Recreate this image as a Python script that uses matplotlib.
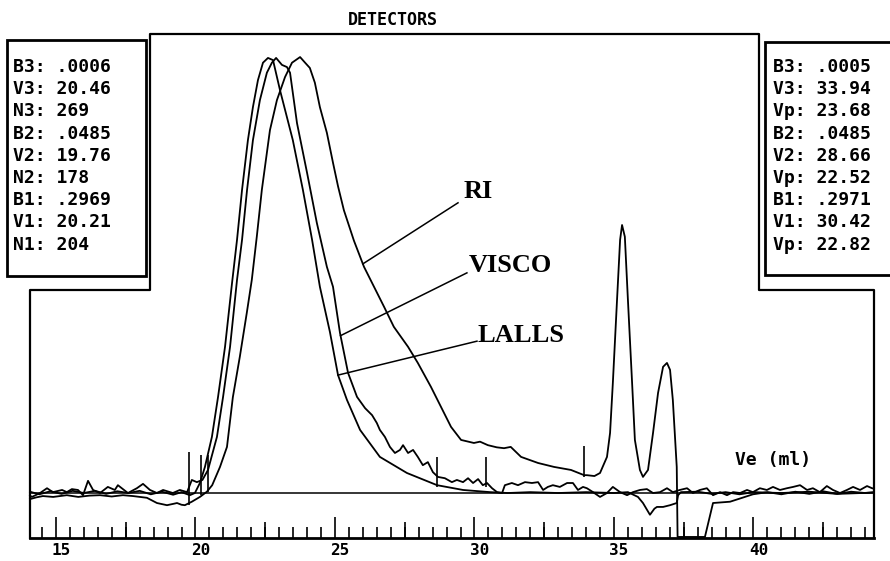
import matplotlib
matplotlib.use("Agg")
import matplotlib.pyplot as plt
import numpy as np
from matplotlib.transforms import ScaledTranslation

# Elution volume (ml) and normalised detector response
ri_ml = [14.07, 14.3, 14.53, 14.9, 15.39, 15.8, 16.2, 16.58, 17.0, 17.4, 17.76, 18.26,
         18.62, 18.98, 19.2, 19.34, 19.5, 19.62, 19.87, 20.16, 20.41, 20.6, 20.88, 21.13,
         21.34, 21.59, 21.84, 22.02, 22.2, 22.38, 22.67, 22.92, 23.21, 23.46, 23.75, 23.93,
         24.1, 24.28, 24.46, 24.71, 24.93, 25.11, 25.32, 25.68, 26.04, 26.4, 26.76, 27.11,
         27.62, 27.97, 28.44, 28.8, 29.16, 29.52, 29.98, 30.2, 30.48, 30.8, 31.06, 31.3,
         31.67, 32.28, 32.85, 33.46, 33.93, 34.03, 34.3, 34.5, 34.75, 34.86, 34.96, 35.11,
         35.22, 35.29, 35.39, 35.5, 35.65, 35.75, 35.93, 36.04, 36.22, 36.4, 36.58, 36.76,
         36.9, 37.01, 37.11, 37.25, 37.28, 38.26, 38.55, 39.16, 39.5, 39.98, 40.5, 41.0,
         41.5, 42.0, 42.5, 43.0, 43.5, 44.0, 44.32]
ri_v = [-1.4, -1.0, -0.7, -0.9, -0.5, -0.9, -0.6, -0.5, -0.8, -0.5, -0.7, -1.1,
        -2.3, -2.8, -2.5, -2.3, -2.7, -2.8, -2.0, -0.9, 0.3, 1.8, 6.0, 10.6,
        22.0, 31.3, 41.4, 49.0, 59.0, 69.7, 83.4, 90.3, 95.6, 98.9, 100.2, 98.9,
        97.7, 94.3, 88.7, 82.8, 75.9, 70.5, 65.0, 58.0, 52.0, 47.4, 42.8, 38.2,
        33.6, 29.9, 24.4, 19.8, 15.2, 12.2, 11.5, 11.8, 11.0, 10.5, 10.3, 10.6,
        8.3, 6.9, 6.0, 5.3, 4.1, 4.1, 3.9, 4.6, 8.3, 13.8, 25.3, 44.4,
        58.2, 61.6, 58.9, 44.4, 25.3, 12.2, 5.3, 3.7, 5.3, 13.8, 23.0, 29.0,
        29.9, 28.3, 21.4, 6.0, -10.1, -10.1, -2.3, -2.0, -1.3, -0.3, 0.2, -0.3,
        0.3, -0.2, 0.4, -0.2, 0.3, 0.0, 0.2]

visco_ml = [14.07, 14.14, 14.43, 14.68, 14.89, 15.22, 15.39, 15.57, 15.79, 15.97, 16.15,
            16.33, 16.58, 16.86, 17.11, 17.22, 17.58, 17.9, 18.12, 18.37, 18.62, 18.84,
            19.19, 19.44, 19.7, 19.87, 20.05, 20.25, 20.45, 20.77, 20.99, 21.24, 21.49,
            21.67, 21.85, 22.06, 22.31, 22.56, 22.74, 22.89, 23.1, 23.28, 23.39, 23.64,
            24.0, 24.35, 24.71, 24.93, 25.18, 25.47, 25.79, 26.08, 26.33, 26.5, 26.61,
            26.79, 26.97, 27.15, 27.33, 27.44, 27.62, 27.8, 27.97, 28.15, 28.33, 28.51,
            28.69, 28.94, 29.19, 29.37, 29.59, 29.77, 29.95, 30.13, 30.3, 30.45, 30.63,
            30.81, 30.99, 31.09, 31.34, 31.56, 31.81, 32.06, 32.28, 32.46, 32.63, 32.81,
            33.06, 33.32, 33.53, 33.71, 33.89, 34.03, 34.25, 34.5, 34.75, 34.96, 35.22,
            35.47, 35.68, 35.93, 36.18, 36.4, 36.65, 36.9, 37.11, 37.36, 37.62, 37.83,
            38.08, 38.33, 38.55, 38.8, 39.05, 39.27, 39.52, 39.77, 39.98, 40.23, 40.48,
            40.7, 40.95, 41.2, 41.42, 41.67, 41.92, 42.13, 42.38, 42.63, 42.85, 43.1,
            43.35, 43.57, 43.82, 44.07, 44.25, 44.32]
visco_v = [-0.6, -0.9, 0.0, 1.1, 0.2, 0.7, 0.2, 0.9, 0.7, -0.5, 2.8,
           0.7, 0.0, 1.4, 0.7, 1.8, 0.0, 1.1, 2.1, 0.7, 0.0, 0.7,
           0.0, 0.7, 0.2, 3.0, 2.5, 3.0, 5.3, 12.9, 22.1, 33.6, 49.0,
           58.2, 69.7, 81.1, 90.3, 96.6, 98.9, 100.0, 98.4, 97.9, 96.6, 85.0,
           73.6, 62.1, 52.0, 47.4, 36.8, 27.6, 22.1, 19.5, 17.9, 16.1, 14.5,
           12.9, 10.6, 9.2, 9.9, 11.0, 9.2, 9.9, 8.3, 6.4, 7.1, 4.8,
           3.7, 3.4, 2.5, 3.0, 2.5, 3.4, 2.3, 3.2, 1.8, 2.3, 1.1,
           0.2, 0.0, 1.8, 2.3, 1.8, 2.5, 2.3, 2.5, 0.7, 1.4, 1.8,
           1.4, 2.3, 2.3, 0.7, 1.4, 1.1, 0.2, -0.9, 0.0, 1.4, 0.2,
           -0.5, 0.2, 0.7, 0.9, 0.0, 0.2, 1.1, 0.2, 0.7, 1.1, 0.0,
           0.7, 1.1, -0.5, 0.2, -0.5, 0.2, 0.0, 0.7, 0.2, 1.1, 0.7,
           1.4, 0.7, 1.1, 1.4, 1.8, 0.7, 1.1, 0.2, 1.6, 0.7, 0.0,
           0.7, 1.4, 0.7, 1.6, 1.1, 1.0]

lalls_ml = [14.07, 14.4, 14.8, 15.2, 15.6, 16.0, 16.4, 16.8, 17.2, 17.6, 18.0, 18.4,
            18.8, 19.2, 19.5, 19.8, 19.98, 20.16, 20.34, 20.59, 20.81, 21.06, 21.31,
            21.49, 21.67, 21.88, 22.06, 22.24, 22.42, 22.6, 22.78, 23.03, 23.49, 23.85,
            24.18, 24.46, 24.82, 25.11, 25.43, 25.9, 26.61, 27.58, 28.66, 29.59, 30.56,
            31.2, 32.0, 33.0, 34.0, 35.0, 35.5, 35.86, 36.04, 36.29, 36.45, 36.54,
            36.76, 37.01, 37.25, 37.3, 37.4, 38.0, 38.5, 39.0, 39.5, 40.0, 41.0, 42.0,
            43.0, 44.32]
lalls_v = [0.3, -0.3, 0.4, -0.2, 0.5, 0.0, 0.5, -0.2, 0.4, 0.0, 0.5, -0.3,
           0.3, -0.4, 0.2, -0.5, 0.0, 2.3, 6.0, 12.9, 22.1, 33.6, 48.2,
           58.2, 69.7, 81.1, 88.7, 94.9, 98.9, 100.0, 99.5, 92.6, 81.1, 69.7,
           58.2, 47.4, 37.0, 27.1, 21.4, 14.5, 8.3, 4.6, 1.8, 0.7, 0.2,
           0.0, 0.2, 0.0, 0.2, 0.0, 0.2, -0.9, -2.3, -5.0, -3.6, -3.2,
           -3.2, -2.8, -2.3, -0.5, 0.2, 0.3, -0.2, 0.2, -0.3, 0.2, 0.0, 0.3,
           -0.2, 0.1]

# Integration limit markers (ml) and their extent in response units
marker_ml = [19.76, 20.21, 20.46, 28.66, 30.42, 33.94]
marker_lo = [-2.8, -0.5, 0.3, 1.4, 1.4, 3.7]
marker_hi = [9.4, 8.7, 8.7, 8.3, 8.3, 10.8]

left_box = ["B3: .0006", "V3: 20.46", "N3: 269", "B2: .0485", "V2: 19.76",
            "N2: 178", "B1: .2969", "V1: 20.21", "N1: 204"]
right_box = ["B3: .0005", "V3: 33.94", "Vp: 23.68", "B2: .0485", "V2: 28.66",
             "Vp: 22.52", "B1: .2971", "V1: 30.42", "Vp: 22.82"]

W, H = 890, 561
MONO = "DejaVu Sans Mono"
SERIF = "Liberation Serif"


def fx(px):
    return px / W


def fy(py):
    return 1 - py / H


fig = plt.figure(figsize=(W / 100, H / 100), dpi=100)
ax = fig.add_axes([fx(30), fy(538), fx(874) - fx(30), fy(34) - fy(538)])
ax.set_xlim(14.07, 44.32)
ax.set_ylim(-10.34, 105.5)
ax.patch.set_alpha(0)

for name in ["left", "right", "top"]:
    ax.spines[name].set_visible(False)
ax.spines["bottom"].set_linewidth(2.0)

# stepped outline of the plotting window
frame_x = [30, 30, 150, 150, 759, 759, 874, 874]
frame_y = [538, 290, 290, 34, 34, 290, 290, 538]
fig.add_artist(plt.Line2D([fx(p) for p in frame_x], [fy(p) for p in frame_y],
                          transform=fig.transFigure, color="black", lw=1.6))

# ticks
ax.set_xticks(np.arange(15, 45, 5))
ax.set_xticks(np.arange(14.5, 44.4, 0.5), minor=True)
ax.set_yticks([])
ax.tick_params(axis="x", which="major", direction="in", length=15, width=1.2, pad=3.5,
               labelsize=11.5)
ax.tick_params(axis="x", which="minor", direction="in", length=8, width=1.2)
for lab in ax.get_xticklabels():
    lab.set_fontfamily(MONO)
    lab.set_fontweight("bold")
    lab.set_transform(lab.get_transform() + ScaledTranslation(0.05, 0, fig.dpi_scale_trans))

mid = ax.secondary_xaxis("bottom")
mid.set_xticks(np.arange(17.5, 44.4, 5))
mid.tick_params(direction="in", length=11.5, width=1.2, labelbottom=False)
mid.spines["bottom"].set_visible(False)

# baseline and traces
ax.axhline(0, color="black", lw=1.1)
for ml, v in [(ri_ml, ri_v), (visco_ml, visco_v), (lalls_ml, lalls_v)]:
    ax.plot(ml, v, color="black", lw=1.3, clip_on=False)

ax.vlines(marker_ml, marker_lo, marker_hi, color="black", lw=1.2)

# curve labels with leader lines
labels = [
    ("RI", ri_ml, ri_v, 26.0, (29.41, 66.7), (30.13, 69.4)),
    ("VISCO", visco_ml, visco_v, 25.2, (29.73, 50.6), (31.27, 52.2)),
    ("LALLS", lalls_ml, lalls_v, 25.11, (30.09, 34.9), (31.67, 36.3)),
]
for text, ml, v, at, start, pos in labels:
    ax.plot([start[0], at], [start[1], np.interp(at, ml, v)], color="black", lw=1.1)
    ax.text(pos[0], pos[1], text, fontfamily=SERIF, fontweight="bold", fontsize=19,
            ha="center", va="center")

ax.text(0.835, 0.155, "Ve (ml)", transform=ax.transAxes, fontfamily=MONO,
        fontweight="bold", fontsize=13, ha="left", va="center")

fig.text(fx(393), fy(20), "DETECTORS", fontfamily=MONO, fontweight="bold",
         fontsize=12, ha="center", va="center")

# parameter boxes
for x0, x1, y0, y1 in [(7, 146, 40, 276), (765, 895, 42, 275)]:
    fig.add_artist(plt.Rectangle((fx(x0), fy(y1)), fx(x1) - fx(x0), fy(y0) - fy(y1),
                                 transform=fig.transFigure, fill=True, facecolor="white",
                                 edgecolor="black", lw=2.0))

for i, (lt, rt) in enumerate(zip(left_box, right_box)):
    y = fy(67 + i * 22.2)
    fig.text(fx(13), y, lt, fontfamily=MONO, fontweight="bold", fontsize=13,
             ha="left", va="center")
    fig.text(fx(773), y, rt, fontfamily=MONO, fontweight="bold", fontsize=13,
             ha="left", va="center")

fig.savefig("out.png", dpi=100)
